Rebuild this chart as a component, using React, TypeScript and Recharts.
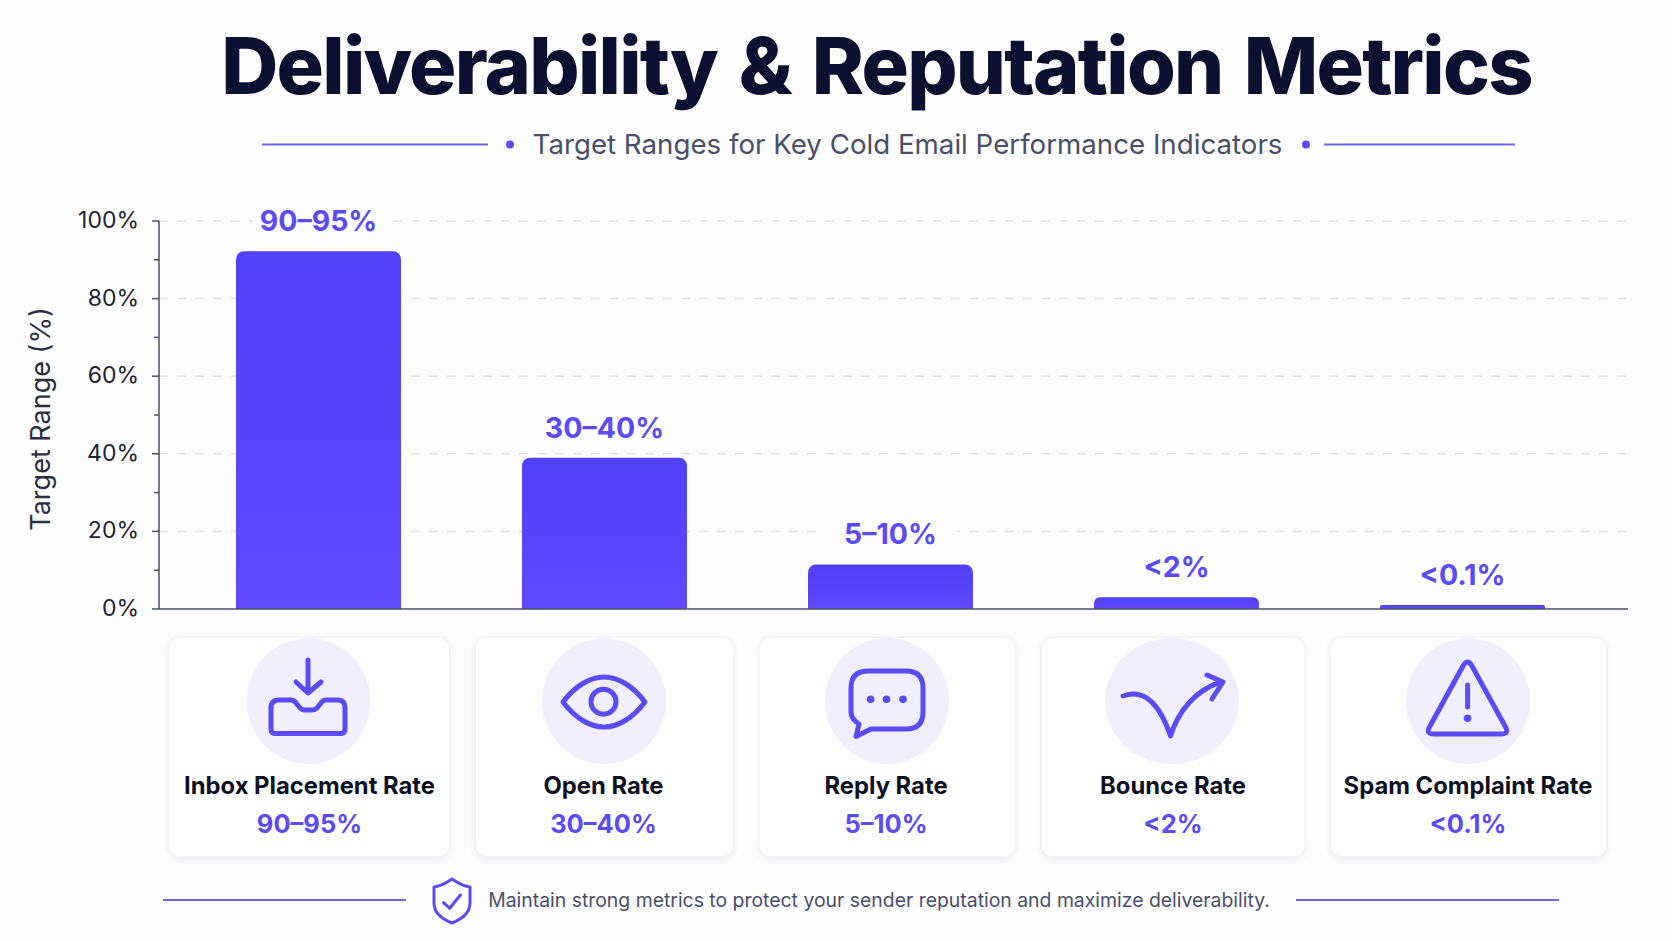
import React from "react";
import { BarChart, Bar, XAxis, YAxis, CartesianGrid, LabelList } from "recharts";

const metricNames = ["Inbox Placement Rate", "Open Rate", "Reply Rate", "Bounce Rate", "Spam Complaint Rate"];
const barValues = [92.2, 39, 11.5, 3, 1];
const rangeLabels = ["90–95%", "30–40%", "5–10%", "<2%", "<0.1%"];
const yTicks = [0, 10, 20, 30, 40, 50, 60, 70, 80, 90, 100];
const gridValues = [20, 40, 60, 80, 100];

const chartData = metricNames.map((name, i) => ({ name, value: barValues[i], label: rangeLabels[i] }));

const FONT = "Inter, sans-serif";
const PURPLE = "#5b4bf5";
const RULE = "#7263ee";
const SLATE = "#4a4f68";

// card boxes and icon circles, in page pixels
const cards = [
  { x: 168, w: 282, cx: 308.5, tx: 309.5, rx: 62 },
  { x: 475, w: 259, cx: 604, tx: 603.5, rx: 62 },
  { x: 759, w: 257, cx: 887, tx: 886, rx: 62 },
  { x: 1041, w: 264, cx: 1172, tx: 1173, rx: 67 },
  { x: 1330, w: 277, cx: 1468, tx: 1468, rx: 62 },
];

const YTick = ({ x, y, payload }: any) => {
  const major = payload.value % 20 === 0;
  return (
    <g>
      <line x1={x - (major ? 7 : 5)} x2={x} y1={y} y2={y} stroke={SLATE} strokeWidth={1.5} />
      {major && (
        <text x={x - 20} y={y + 7} textAnchor="end" fontFamily={FONT} fontSize={23} fill="#1f2433">
          {payload.value}%
        </text>
      )}
    </g>
  );
};

const BarTopLabel = ({ x, y, width, value }: any) => {
  const cx = x + width / 2;
  return (
    <g>
      <rect x={cx - 66} y={y - 46} width={132} height={32} fill="#fdfdfe" />
      <text x={cx} y={y - 20} textAnchor="middle" fontFamily={FONT} fontSize={28.5} fontWeight={700} fill={PURPLE}>
        {value}
      </text>
    </g>
  );
};

const Icons = () => (
  <g fill="none" stroke={PURPLE} strokeWidth={5} strokeLinecap="round" strokeLinejoin="round">
    {/* inbox */}
    <path d="M308 660 V692 M296 682 L308 693 L321 682" />
    <path d="M271 708 Q271 700 279 700 H291 Q294 700 296 703 L300 708 Q302 710 305 710 H312 Q315 710 317 708 L321 703 Q323 700 326 700 H338 Q345 700 345 708 V729 Q345 733.5 341 733.5 H275 Q271 733.5 271 729 Z" />
    {/* eye */}
    <path d="M563 702 C575 686 590 677 604 677 C618 677 633 686 645 702 C633 718 618 727 604 727 C590 727 575 718 563 702 Z" />
    <circle cx={603.5} cy={701.7} r={12.5} />
    {/* chat */}
    <path d="M868 671 H906 Q923 671 923 688 V712 Q923 729 906 729 H871 L856 736.5 L859 724 Q851 719 851 712 V688 Q851 671 868 671 Z" />
    <g fill={PURPLE} stroke="none">
      <circle cx={870.6} cy={699.3} r={3.8} />
      <circle cx={886.5} cy={699.3} r={3.8} />
      <circle cx={903} cy={699.3} r={3.8} />
    </g>
    {/* bounce */}
    <path d="M1123 696 C1145 688 1160 705 1170.5 736 C1178 712 1195 690 1221 682" />
    <path d="M1207 675 L1223 682 L1212 699" />
    {/* warning */}
    <path d="M1463 666 Q1467.5 658 1472 666 L1505 726 Q1510 734 1501 734 H1434 Q1425 734 1430 726 Z" />
    <path d="M1467.6 685 V707" />
    <circle cx={1467.6} cy={718.3} r={3.8} fill={PURPLE} stroke="none" />
    {/* shield */}
    <g strokeWidth={3}>
      <path d="M452 879 Q462 886 470 887 V903 Q470 916 452 923 Q434 916 434 903 V887 Q442 886 452 879 Z" />
      <path d="M443.5 902.7 L449.7 908.3 L460.4 895" />
    </g>
  </g>
);

export default function App() {
  return (
    <div style={{ position: "absolute", left: 0, top: 0, width: 1672, height: 941, background: "#fdfdfe", overflow: "hidden" }}>
      {cards.map((c) => (
        <div
          key={c.x}
          style={{
            position: "absolute",
            left: c.x,
            top: 637,
            width: c.w,
            height: 220,
            boxSizing: "border-box",
            background: "#fff",
            borderRadius: 11,
            border: "1px solid #f3f3f8",
            boxShadow: "0 2px 7px rgba(40,40,90,0.09)",
          }}
        />
      ))}

      <div style={{ position: "absolute", left: 0, top: 0 }}>
        <BarChart width={1672} height={640} data={chartData} margin={{ top: 221, right: 44, bottom: 30, left: 0 }} barSize={165}>
          <defs>
            <linearGradient id="barFill" x1="0" y1="0" x2="0" y2="1">
              <stop offset="0%" stopColor="#5040f8" />
              <stop offset="100%" stopColor="#6049fe" />
            </linearGradient>
          </defs>
          <CartesianGrid vertical={false} horizontalValues={gridValues} stroke="#e2e3ea" strokeWidth={1.5} strokeDasharray="9 9" />
          <XAxis
            dataKey="name"
            tick={false}
            tickLine={false}
            height={1}
            padding={{ left: 16, right: 23 }}
            axisLine={{ stroke: SLATE, strokeWidth: 1.5 }}
          />
          <YAxis
            width={159}
            domain={[0, 100]}
            ticks={yTicks}
            interval={0}
            tickSize={0}
            tickMargin={0}
            tick={<YTick />}
            axisLine={{ stroke: SLATE, strokeWidth: 1.5 }}
            label={{
              value: "Target Range (%)",
              angle: -90,
              position: "insideLeft",
              offset: 40,
              dy: 4,
              style: { textAnchor: "middle", fontFamily: FONT, fontSize: 27, fill: "#2a2f40" },
            }}
          />
          <Bar dataKey="value" fill="url(#barFill)" radius={[8, 8, 0, 0]} isAnimationActive={false}>
            <LabelList dataKey="label" content={<BarTopLabel />} />
          </Bar>
        </BarChart>
      </div>

      <svg width={1672} height={941} style={{ position: "absolute", left: 0, top: 0, pointerEvents: "none" }}>
        <text x={876.5} y={94} textAnchor="middle" fontFamily={FONT} fontSize={79} fontWeight={800} letterSpacing={-1.75} wordSpacing={5.7} fill="#0b1030">
          Deliverability &amp; Reputation Metrics
        </text>

        <line x1={262} x2={488} y1={144.5} y2={144.5} stroke={RULE} strokeWidth={2} />
        <circle cx={510} cy={144.5} r={4} fill={PURPLE} />
        <text x={907.5} y={154} textAnchor="middle" fontFamily={FONT} fontSize={27.7} fill={SLATE}>
          Target Ranges for Key Cold Email Performance Indicators
        </text>
        <circle cx={1306} cy={144.5} r={4} fill={PURPLE} />
        <line x1={1324} x2={1515} y1={144.5} y2={144.5} stroke={RULE} strokeWidth={2} />

        {cards.map((c) => (
          <ellipse key={c.cx} cx={c.cx} cy={701} rx={c.rx} ry={63} fill="#f1effd" />
        ))}
        <Icons />
        {cards.map((c, i) => (
          <g key={c.tx} textAnchor="middle" fontFamily={FONT}>
            <text x={c.tx} y={794} fontSize={23.8} fontWeight={650} fill="#0d1020">
              {metricNames[i]}
            </text>
            <text x={c.tx} y={833} fontSize={25.5} fontWeight={650} fill={PURPLE}>
              {rangeLabels[i]}
            </text>
          </g>
        ))}

        <line x1={163} x2={406} y1={900} y2={900} stroke={RULE} strokeWidth={2} />
        <text x={879} y={907} textAnchor="middle" fontFamily={FONT} fontSize={19.4} fill={SLATE}>
          Maintain strong metrics to protect your sender reputation and maximize deliverability.
        </text>
        <line x1={1296} x2={1559} y1={900} y2={900} stroke={RULE} strokeWidth={2} />
      </svg>
    </div>
  );
}
